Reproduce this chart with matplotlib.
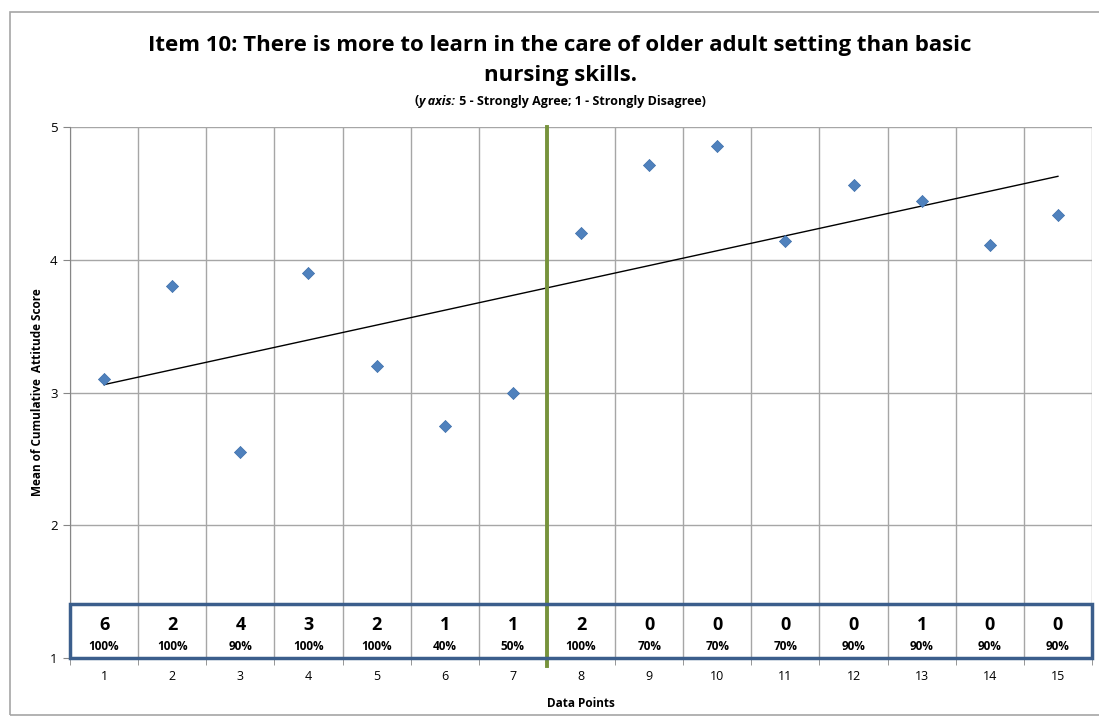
import numpy as np
import matplotlib.pyplot as plt
from matplotlib.patches import Rectangle

# data
points = np.arange(1, 16)
scores = [3.10, 3.80, 2.55, 3.90, 3.20, 2.75, 3.00, 4.20, 4.71, 4.86, 4.14, 4.56, 4.44, 4.11, 4.34]
counts = ['6', '2', '4', '3', '2', '1', '1', '2', '0', '0', '0', '0', '1', '0', '0']
percents = ['100%', '100%', '90%', '100%', '100%', '40%', '50%', '100%', '70%', '70%',
            '70%', '90%', '90%', '90%', '90%']
split_at = 7.5

plt.rcParams['font.family'] = ['Open Sans', 'DejaVu Sans']

fig = plt.figure(figsize=(10.99, 7.19), dpi=100)
ax = fig.add_axes([70 / 1099, 1 - 658 / 719, 1022 / 1099, 531 / 719])

# outer chart border
fig.patches.append(Rectangle((10 / 1099, 0.005), 1.2, 1 - 12 / 719 - 0.005, transform=fig.transFigure,
                             fill=False, edgecolor='#A6A6A6', linewidth=1.2))

ax.scatter(points, scores, marker='D', s=38, color='#4F81BD', edgecolor='#3C6EAA', linewidth=0.5, zorder=4)

# linear trendline
slope, intercept = np.polyfit(points, scores, 1)
ax.plot([points[0], points[-1]], [slope * points[0] + intercept, slope * points[-1] + intercept],
        color='black', linewidth=1, zorder=3)

ax.axvline(split_at, ymin=-0.015, ymax=1, color='#77933C', linewidth=2.8, zorder=5, clip_on=False)

ax.set_xlim(0.5, 15.5)
ax.set_ylim(1, 5)
ax.set_yticks([1, 2, 3, 4, 5])
ax.set_xticks(points)
ax.set_xticks(np.arange(0.5, 16, 1), minor=True)
ax.tick_params(axis='x', which='major', length=0, labelsize=9, pad=9)
ax.tick_params(axis='x', which='minor', length=5, color='#868686', direction='out')
ax.tick_params(axis='y', length=5, color='#868686', labelsize=9.5, pad=4)
ax.grid(True, which='minor', axis='x', color='#A6A6A6', linewidth=1)
ax.grid(True, which='major', axis='y', color='#A6A6A6', linewidth=1)
ax.set_axisbelow(True)
for side in ['top', 'right']:
    ax.spines[side].set_visible(False)
for side in ['left', 'bottom']:
    ax.spines[side].set_color('#868686')

ax.set_xlabel('Data Points', fontsize=8.5, fontweight='bold', labelpad=10)
ax.set_ylabel('Mean of Cumulative  Attitude Score', fontsize=8.5, fontweight='bold', labelpad=4)

# table box along the bottom
ax.add_patch(Rectangle((0.5, 1.0), 15, 0.41, fill=False, edgecolor='#3B5E8C', linewidth=2.5,
                       zorder=6, clip_on=False))
for x, c, p in zip(points, counts, percents):
    ax.text(x, 1.245, c, ha='center', va='center', fontsize=13, fontweight='bold', zorder=7)
    ax.text(x, 1.085, p, ha='center', va='center', fontsize=8.5, fontweight='bold', zorder=7)

fig.text(560 / 1099, 1 - 45 / 719, 'Item 10: There is more to learn in the care of older adult setting than basic',
         ha='center', va='center', fontsize=16, fontweight='bold')
fig.text(560 / 1099, 1 - 75 / 719, 'nursing skills.', ha='center', va='center', fontsize=16, fontweight='bold')

# subtitle with an italic piece, laid out piece by piece
pieces = [('(', 'normal'), ('y axis:', 'italic'), (' 5 - Strongly Agree; 1 - Strongly Disagree)', 'normal')]
renderer = fig.canvas.get_renderer()
widths = []
for s, style in pieces:
    t = fig.text(0, 0, s, fontsize=9, fontweight='bold', style=style)
    widths.append(t.get_window_extent(renderer).width)
    t.remove()
x0 = 560 - sum(widths) / 2
for (s, style), w in zip(pieces, widths):
    fig.text(x0 / 1099, 1 - 101 / 719, s, ha='left', va='center', fontsize=9, fontweight='bold', style=style)
    x0 += w

fig.savefig('out.png', dpi=100)
